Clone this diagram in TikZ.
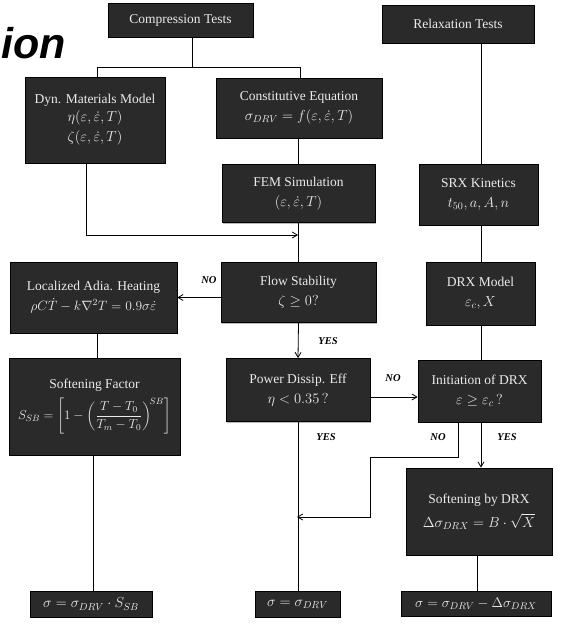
\RequirePackage{fix-cm}
\documentclass[tikz,border=0pt]{standalone}
\usepackage{amsmath}
\usepackage{fontspec}
\setmainfont{Liberation Serif}
\newfontfamily\labfont{Liberation Sans}
\usetikzlibrary{arrows.meta,shadows}
\definecolor{boxgray}{RGB}{42,42,42}
\newcommand\mathsz{\fontsize{14.5}{20}\selectfont}
\newcommand\botsz{\fontsize{14.5}{18}\selectfont}
\tikzset{
  box/.style={draw=black, line width=0.8pt, fill=boxgray, text=white!92!black, align=center,
    inner sep=1pt, font=\fontsize{13.5}{20}\selectfont,
    drop shadow={shadow xshift=1.3pt, shadow yshift=-1.3pt, fill=gray!55, opacity=1}},
  conn/.style={draw=black, line width=0.8pt},
  arr/.style={conn, -{Straight Barb[length=5pt,width=6pt]}},
  lab/.style={font=\fontsize{10.5}{12}\selectfont\bfseries\itshape, inner sep=0pt}
}
\begin{document}
\begin{tikzpicture}[x=1pt,y=-1pt]
\useasboundingbox (0,0) rectangle (566,627);
% title fragment
\node[font=\labfont\fontsize{43}{43}\selectfont\bfseries\itshape, anchor=base east, inner sep=0pt] (title) at (66,58) {ion};
% boxes
\node[box, minimum width=145pt, minimum height=34pt] (comp) at (180.5,20) {Compression Tests};
\node[box, minimum width=152pt, minimum height=38pt] (relax) at (458,24) {Relaxation Tests};
\node[box, minimum width=140pt, minimum height=86pt] (dyn) at (95,120) {Dyn. Materials Model\\[-2pt] \mathsz$\eta(\varepsilon,\dot\varepsilon,T)$\\ \mathsz$\zeta(\varepsilon,\dot\varepsilon,T)$};
\node[box, minimum width=166pt, minimum height=60pt] (const) at (299,108) {Constitutive Equation\\ \mathsz$\sigma_{DRV}=f(\varepsilon,\dot\varepsilon,T)$};
\node[box, minimum width=153pt, minimum height=58pt] (fem) at (298.5,193.5) {FEM Simulation\\ \mathsz$(\varepsilon,\dot\varepsilon,T)$};
\node[box, minimum width=119pt, minimum height=61pt] (srx) at (478.5,194.5) {SRX Kinetics\\ \mathsz$t_{50},a,A,n$};
\node[box, minimum width=155pt, minimum height=60pt] (flow) at (298.5,292.5) {Flow Stability\\ \mathsz$\zeta\geq 0?$};
\node[box, minimum width=167pt, minimum height=71pt] (heat) at (93.5,297.5) {Localized Adia. Heating\\ \fontsize{13.5}{19}\selectfont$\rho C\dot T-k\nabla^2T=0.9\sigma\dot\varepsilon$};
\node[box, minimum width=109pt, minimum height=63pt] (drxm) at (480.5,293.5) {DRX Model\\ \mathsz$\varepsilon_c,X$};
\node[box, minimum width=144pt, minimum height=63pt] (power) at (298,390) {Power Dissip. Eff\\ \mathsz$\eta<0.35\,?$};
\node[box, minimum width=123pt, minimum height=62pt] (init) at (479.5,391) {Initiation of DRX\\ \mathsz$\varepsilon\geq\varepsilon_c\,?$};
\node[box, minimum width=171pt, minimum height=97pt] (soft) at (94.5,406.5) {Softening Factor\\[6pt] \fontsize{13}{15}\selectfont$S_{SB}=\left[1-\left(\dfrac{T-T_0}{T_m-T_0}\right)^{\!SB}\right]$};
\node[box, minimum width=146pt, minimum height=87pt] (sdrx) at (479,511.5) {Softening by DRX\\[4pt] \mathsz$\Delta\sigma_{DRX}=B\cdot\sqrt{X}$};
\node[box, minimum width=122pt, minimum height=26pt, font=\botsz] (bl) at (91,604) {$\sigma=\sigma_{DRV}\cdot S_{SB}$};
\node[box, minimum width=85pt, minimum height=26pt, font=\botsz] (bm) at (297.5,604) {$\sigma=\sigma_{DRV}$};
\node[box, minimum width=150pt, minimum height=25pt, font=\fontsize{14}{18}\selectfont] (br) at (476,603.5) {$\sigma=\sigma_{DRV}-\Delta\sigma_{DRX}$};
% helper coordinates
\coordinate (cmid) at (192,67);
\coordinate (cl) at (97,67);
\coordinate (cr) at (300,67);
\coordinate (d1) at (86,235);
\coordinate (d2) at (298,235);
\coordinate (pn) at (370,397);
\coordinate (n1) at (458,457);
\coordinate (n2) at (370,457);
\coordinate (n3) at (370,517);
\coordinate (n4) at (297,517);
\coordinate (xh) at (97,0);
\coordinate (xb) at (93,0);
\coordinate (xs) at (477,0);
\coordinate (xr) at (481,0);
% connectors
\draw[conn] (cmid |- comp.south) -- (cmid);
\draw[conn] (cl) -- (cr);
\draw[conn] (cl) -- (cl |- dyn.north);
\draw[conn] (cr) -- (cr |- const.north);
\draw[conn] (xr |- relax.south) -- (xr |- srx.north);
\draw[conn] (fem.north |- const.south) -- (fem.north);
\draw[conn] (fem.south) -- (flow.north);
\draw[arr] (d1 |- dyn.south) -- (d1) -- (d2);
\draw[arr] (flow.west |- heat.east) -- (heat.east);
\draw[conn] (xh |- heat.south) -- (xh |- soft.north);
\draw[arr] (flow.south) -- (power.north);
\draw[arr] (pn) -- (pn -| init.west);
\draw[conn] (power.south) -- (power.south |- bm.north);
\draw[conn] (xr |- srx.south) -- (xr |- drxm.north);
\draw[conn] (xr |- drxm.south) -- (xr |- init.north);
\draw[arr] (xr |- init.south) -- (xr |- sdrx.north);
\draw[arr] (n1 |- init.south) -- (n1) -- (n2) -- (n3) -- (n4);
\draw[conn] (xb |- soft.south) -- (xb |- bl.north);
\draw[conn] (xs |- sdrx.south) -- (xs |- br.north);
% labels
\node[lab] (l1) at (209,280) {NO};
\node[lab] (l2) at (328,341) {YES};
\node[lab] (l3) at (393,378) {NO};
\node[lab] (l4) at (326,437) {YES};
\node[lab] (l5) at (438,437) {NO};
\node[lab] (l6) at (507,437) {YES};
\end{tikzpicture}
\end{document}
